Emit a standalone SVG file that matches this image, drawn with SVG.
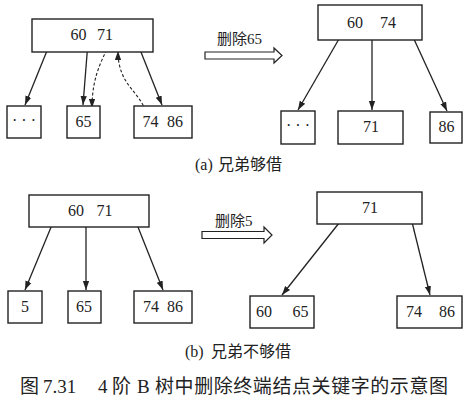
<svg xmlns="http://www.w3.org/2000/svg" width="467" height="404" viewBox="0 0 467 404">
<defs>
<style>
.box{fill:#fff;stroke:#222;stroke-width:1.4}
.num{font-family:"Liberation Serif","Times New Roman",serif;font-size:16px;fill:#222;text-anchor:middle}
.cap{font-family:"Liberation Serif","Noto Sans CJK SC",serif;fill:#222}
.edge{stroke:#222;stroke-width:1.3;fill:none;marker-end:url(#ah)}
.dash{stroke:#222;stroke-width:1.1;fill:none;stroke-dasharray:3,2;marker-end:url(#ah)}
.hollow{fill:#fff;stroke:#222;stroke-width:1.2}
</style>
<marker id="ah" viewBox="0 0 10 10" refX="10" refY="5" markerWidth="9" markerHeight="9" markerUnits="userSpaceOnUse" orient="auto">
<path d="M0,1.5 L10,5 L0,8.5 Z" fill="#222"/>
</marker>
</defs>
<rect width="467" height="404" fill="#fff"/>

<g id="connectors">
<line class="edge" x1="53" y1="36" x2="25" y2="105"/>
<line class="edge" x1="88" y1="42" x2="83" y2="105"/>
<line class="edge" x1="137" y1="42" x2="162" y2="105"/>
<path class="dash" d="M112,36 C106,56 92,70 92,108"/>
<path class="dash" d="M147,115 C140,90 118,86 118,51"/>
<line class="edge" x1="343" y1="32" x2="298" y2="110"/>
<line class="edge" x1="372" y1="35" x2="372" y2="110"/>
<line class="edge" x1="413" y1="37" x2="447" y2="111"/>
<line class="edge" x1="54" y1="220" x2="25" y2="290"/>
<line class="edge" x1="86" y1="222" x2="86" y2="290"/>
<line class="edge" x1="136" y1="222" x2="163" y2="290"/>
<line class="edge" x1="343" y1="218" x2="282" y2="295"/>
<line class="edge" x1="412" y1="222" x2="430" y2="295"/>
</g>

<g id="a-root">
<rect class="box" x="32" y="19" width="121" height="33"/>
<text class="num" x="78.5" y="40">60</text>
<text class="num" x="105" y="40">71</text>
</g>
<g id="a-c1">
<rect class="box" x="7" y="106" width="34" height="32"/>
<text class="num" x="24" y="126">· · ·</text>
</g>
<g id="a-c2">
<rect class="box" x="67" y="106" width="33" height="32"/>
<text class="num" x="83.5" y="127">65</text>
</g>
<g id="a-c3">
<rect class="box" x="134" y="106" width="58" height="32"/>
<text class="num" x="150.5" y="127">74</text>
<text class="num" x="175" y="127">86</text>
</g>

<g id="a-op">
<text class="cap" x="217" y="44" font-size="15">删除<tspan font-family="Liberation Serif">65</tspan></text>
<path class="hollow" d="M205,52 L274,52 L274,48 L282,55.5 L274,63 L274,59 L205,59 Z"/>
</g>

<g id="a-rroot">
<rect class="box" x="318" y="5" width="104" height="35"/>
<text class="num" x="355" y="28">60</text>
<text class="num" x="388" y="28">74</text>
</g>
<g id="a-r1">
<rect class="box" x="281" y="111" width="34" height="33"/>
<text class="num" x="298" y="131">· · ·</text>
</g>
<g id="a-r2">
<rect class="box" x="338" y="111" width="65" height="33"/>
<text class="num" x="371" y="132">71</text>
</g>
<g id="a-r3">
<rect class="box" x="430" y="112" width="32" height="31"/>
<text class="num" x="446.5" y="132">86</text>
</g>
<text class="cap" x="195" y="170" font-size="16">(a)<tspan x="218">兄弟够借</tspan></text>

<g id="b-root">
<rect class="box" x="29" y="195" width="120" height="32"/>
<text class="num" x="76" y="216">60</text>
<text class="num" x="104.5" y="216">71</text>
</g>
<g id="b-c1">
<rect class="box" x="8" y="291" width="34" height="32"/>
<text class="num" x="25" y="312">5</text>
</g>
<g id="b-c2">
<rect class="box" x="68" y="291" width="33" height="32"/>
<text class="num" x="84" y="312">65</text>
</g>
<g id="b-c3">
<rect class="box" x="134" y="291" width="58" height="32"/>
<text class="num" x="151" y="312">74</text>
<text class="num" x="175" y="312">86</text>
</g>

<g id="b-op">
<text class="cap" x="215" y="226" font-size="15">删除<tspan font-family="Liberation Serif">5</tspan></text>
<path class="hollow" d="M202,231.5 L264,231.5 L264,227 L272,235 L264,243 L264,238.5 L202,238.5 Z"/>
</g>

<g id="b-rroot">
<rect class="box" x="317" y="192" width="105" height="32"/>
<text class="num" x="370" y="213">71</text>
</g>
<g id="b-r1">
<rect class="box" x="250" y="296" width="64" height="32"/>
<text class="num" x="264" y="317">60</text>
<text class="num" x="300.5" y="317">65</text>
</g>
<g id="b-r2">
<rect class="box" x="397" y="296" width="65" height="32"/>
<text class="num" x="414" y="317">74</text>
<text class="num" x="447" y="317">86</text>
</g>
<text class="cap" x="185" y="357" font-size="16">(b)<tspan x="211">兄弟不够借</tspan></text>

<text class="cap" x="20" y="393" font-size="19">图<tspan x="43">7.31</tspan><tspan x="98">4</tspan><tspan x="112">阶</tspan><tspan x="137">B</tspan><tspan x="155" textLength="293" lengthAdjust="spacing">树中删除终端结点关键字的示意图</tspan></text>
</svg>
